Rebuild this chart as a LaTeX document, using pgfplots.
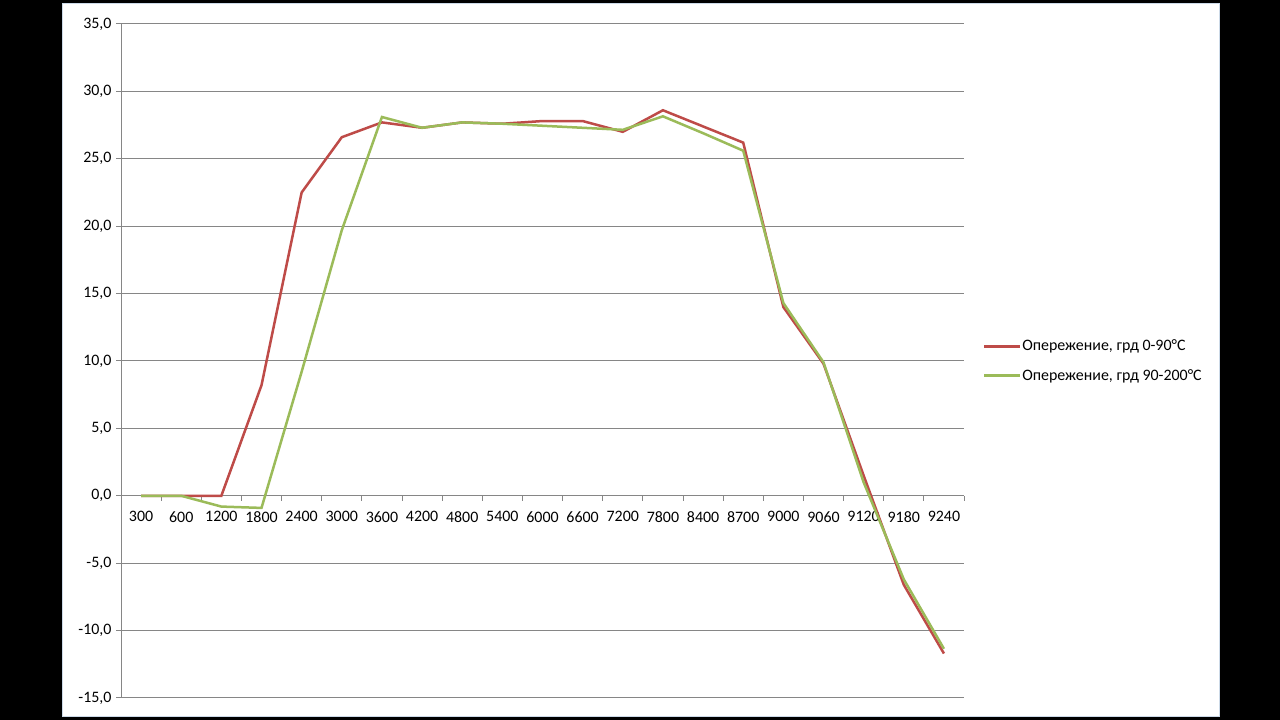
\documentclass[border=0pt]{standalone}
\usepackage{pgfplots}
\pgfplotsset{compat=1.18}
\usepackage{fontspec}
\setmainfont{Carlito}
\definecolor{exred}{RGB}{190,75,72}
\definecolor{exgreen}{RGB}{155,187,89}
\definecolor{gridgray}{RGB}{134,134,134}
\definecolor{frameblue}{RGB}{205,218,232}
\begin{document}
\begin{tikzpicture}[x=1bp,y=1bp]
\fill[black] (0,0) rectangle (1280,720);
\fill[white] (62,3) rectangle (1220,717);
\draw[frameblue,line width=1bp] (62.5,3.5) rectangle (1219.5,716.5);
\begin{axis}[
  at={(121bp,22bp)}, anchor=south west,
  scale only axis, width=843bp, height=674bp,
  xmin=-0.5, xmax=20.5, ymin=-15, ymax=35,
  axis x line*=middle, axis y line*=left,
  axis line style={gridgray, line width=1bp},
  xtick={0,...,20},
  xticklabels={300,600,1200,1800,2400,3000,3600,4200,4800,5400,6000,6600,7200,7800,8400,8700,9000,9060,9120,9180,9240},
  minor xtick={-0.5,0.5,...,20.5},
  ytick={-15,-10,...,35},
  yticklabels={{-15,0},{-10,0},{-5,0},{0,0},{5,0},{10,0},{15,0},{20,0},{25,0},{30,0},{35,0}},
  major x tick style={draw=none},
  minor x tick style={gridgray, line width=1bp},
  major y tick style={gridgray, line width=1bp},
  tick align=outside,
  major tick length=5bp, minor tick length=5bp,
  ymajorgrids,
  major grid style={gridgray, line width=1bp},
  tick label style={font=\fontsize{16}{18}\selectfont, text=black},
  xticklabel style={yshift=-7bp},
  yticklabel style={xshift=-1bp},
  legend style={at={(1.022,0.5)}, anchor=west, draw=none, fill=none,
    font=\fontsize{16}{18}\selectfont, row sep=15bp, inner sep=0pt,
    nodes={inner sep=1bp}},
  legend cell align=left,
  legend image code/.code={\draw[#1] (0bp,0bp) -- (36bp,0bp);},
]
\addplot[exred, line width=2.5bp] coordinates {
(0,0) (1,0) (2,0) (3,8.2) (4,22.5) (5,26.6) (6,27.7) (7,27.3) (8,27.7) (9,27.6)
(10,27.8) (11,27.8) (12,27.0) (13,28.6) (14,27.4) (15,26.2) (16,14.0) (17,9.8)
(18,1.5) (19,-6.6) (20,-11.7)};
\addlegendentry{Опережение, грд 0-90°C}
\addplot[exgreen, line width=2.5bp] coordinates {
(0,0) (1,0) (2,-0.8) (3,-0.9) (4,9.2) (5,19.7) (6,28.1) (7,27.3) (8,27.7) (9,27.6)
(10,27.45) (11,27.3) (12,27.15) (13,28.15) (14,26.9) (15,25.6) (16,14.3) (17,9.9)
(18,1.0) (19,-6.2) (20,-11.35)};
\addlegendentry{Опережение, грд 90-200°C}
\end{axis}
\end{tikzpicture}
\end{document}
